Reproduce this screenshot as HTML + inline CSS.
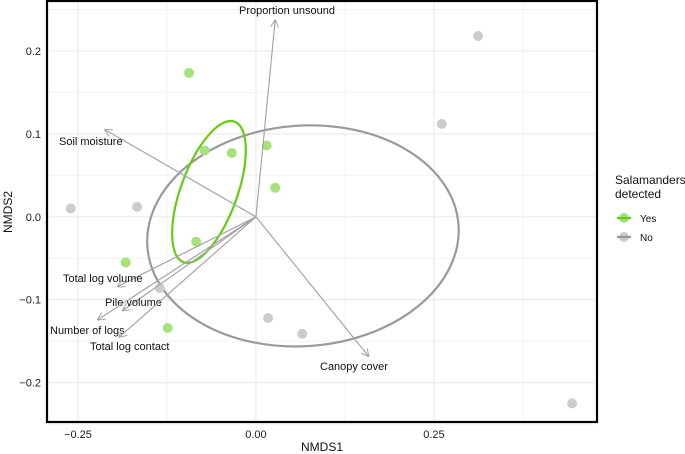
<!DOCTYPE html>
<html><head><meta charset="utf-8">
<style>
body{margin:0;background:#fff;}
svg{display:block;font-family:"Liberation Sans",sans-serif;}
</style></head>
<body>
<svg id="chart" width="685" height="454" viewBox="0 0 685 454" xmlns="http://www.w3.org/2000/svg"></svg>
<script>
const xTicks=[-0.25,0,0.25];
const xTickLabels=["-0.25","0.00","0.25"];
const yTicks=[-0.2,-0.1,0,0.1,0.2];
const yTickLabels=["-0.2","-0.1","0.0","0.1","0.2"];
const yesX=[-0.094,-0.072,-0.034,0.015,0.027,-0.084,-0.183,-0.124];
const yesY=[0.1735,0.080,0.077,0.086,0.035,-0.030,-0.055,-0.134];
const noX=[-0.26,-0.167,-0.135,0.017,0.065,0.261,0.312,0.444];
const noY=[0.010,0.012,-0.086,-0.122,-0.141,0.112,0.218,-0.225];
const vecNames=["Proportion unsound","Soil moisture","Total log volume","Pile volume","Number of logs","Total log contact","Canopy cover"];
const vecX=[0.027,-0.212,-0.194,-0.187,-0.222,-0.192,0.158];
const vecY=[0.237,0.105,-0.084,-0.113,-0.124,-0.145,-0.168];
const ellipseGray=[0.066,-0.023,0.219,0.133,-4];
const ellipseGreen=[-0.066,0.030,0.105,0.034,-70];

const L=47,R=597,T=1,B=422;
const xmin=-0.2935,xmax=0.479,ymin=-0.2474,ymax=0.2602;
const sx=v=>L+(v-xmin)/(xmax-xmin)*(R-L);
const sy=v=>B-(v-ymin)/(ymax-ymin)*(B-T);
const svg=document.getElementById('chart');
const NS="http://www.w3.org/2000/svg";
function mk(tag,attrs,parent){const e=document.createElementNS(NS,tag);for(const k in attrs)e.setAttribute(k,attrs[k]);(parent||svg).appendChild(e);return e;}

const defs=mk('defs',{});
const mkr=mk('marker',{id:'ah',viewBox:'0 0 10 10',refX:'9',refY:'5',markerWidth:'8',markerHeight:'8',orient:'auto-start-reverse',markerUnits:'userSpaceOnUse'},defs);
mk('path',{d:'M0,0 L10,5 L0,10',fill:'none',stroke:'#a6a6a6','stroke-width':'1.3'},mkr);

// grid
const grid=mk('g',{});


const minorX=[-0.375,-0.125,0.125,0.375],minorY=[-0.25,-0.15,-0.05,0.05,0.15,0.25];
minorX.forEach(v=>mk('line',{x1:sx(v),x2:sx(v),y1:T,y2:B,stroke:'#f2f2f2','stroke-width':1},grid));
minorY.forEach(v=>mk('line',{y1:sy(v),y2:sy(v),x1:L,x2:R,stroke:'#f2f2f2','stroke-width':1},grid));
xTicks.forEach(v=>mk('line',{x1:sx(v),x2:sx(v),y1:T,y2:B,stroke:'#ebebeb','stroke-width':1.2},grid));
yTicks.forEach(v=>mk('line',{y1:sy(v),y2:sy(v),x1:L,x2:R,stroke:'#ebebeb','stroke-width':1.2},grid));

function ell(p,color,w,name){
  const e=mk('ellipse',{cx:sx(p[0]),cy:sy(p[1]),rx:p[2]*(R-L)/(xmax-xmin),ry:p[3]*(B-T)/(ymax-ymin),fill:'none',stroke:color,'stroke-width':w,transform:`rotate(${p[4]} ${sx(p[0])} ${sy(p[1])})`});
  
  
}
ell(ellipseGray,'#9a9a9a',2.2,'ellipse-no');
ell(ellipseGreen,'#66cc11',2.2,'ellipse-yes');

// points
yesX.forEach((v,i)=>{const c=mk('circle',{cx:sx(v),cy:sy(yesY[i]),r:5,fill:'#a6e27a'});

});
noX.forEach((v,i)=>{const c=mk('circle',{cx:sx(v),cy:sy(noY[i]),r:5,fill:'#cccccc'});

});

// vectors
const labelPos=[[287,14,'middle'],[59,145,'start'],[63,282,'start'],[105,306,'start'],[50,334,'start'],[90,350,'start'],[320,370,'start']];
vecX.forEach((v,i)=>{
  const l=mk('line',{x1:sx(0),y1:sy(0),x2:sx(v),y2:sy(vecY[i]),stroke:'#a6a6a6','stroke-width':1.2,'marker-end':'url(#ah)'});
  
  
  const t=mk('text',{x:labelPos[i][0],y:labelPos[i][1],'text-anchor':labelPos[i][2],'font-size':11,fill:'#111'});
  t.textContent=vecNames[i];
  
  
});

// panel border
const pb=mk('rect',{x:L,y:T,width:R-L,height:B-T,fill:'none',stroke:'#000','stroke-width':2.2});



// ticks labels
xTicks.forEach((v,i)=>{const t=mk('text',{x:sx(v),y:438,'text-anchor':'middle','font-size':11,fill:'#222'});t.textContent=xTickLabels[i].replace('-','\u2212');

});
yTicks.forEach((v,i)=>{const t=mk('text',{x:41,y:sy(v)+4,'text-anchor':'end','font-size':11,fill:'#222'});t.textContent=yTickLabels[i].replace('-','\u2212');

});

const xt=mk('text',{x:322,y:451,'text-anchor':'middle','font-size':12,fill:'#111'});xt.textContent='NMDS1';


const yt=mk('text',{x:12,y:212,'text-anchor':'middle','font-size':12,fill:'#111',transform:'rotate(-90 12 212)'});yt.textContent='NMDS2';



// legend
const lg=mk('g',{});


const lt1=mk('text',{x:615,y:184,'font-size':12,fill:'#111'},lg);lt1.textContent='Salamanders';
const lt2=mk('text',{x:615,y:198,'font-size':12,fill:'#111'},lg);lt2.textContent='detected';
[['Yes','#a6e27a','#66cc11',218],['No','#cccccc','#9a9a9a',237]].forEach(d=>{
  const e=mk('g',{},lg);
  
  
  mk('circle',{cx:624,cy:d[3],r:5,fill:d[1]},e);
  mk('line',{x1:617,x2:631,y1:d[3],y2:d[3],stroke:d[2],'stroke-width':2.2},e);
  const t=mk('text',{x:640,y:d[3]+4,'font-size':10,fill:'#111'},e);t.textContent=d[0];
});
</script>
</body></html>
